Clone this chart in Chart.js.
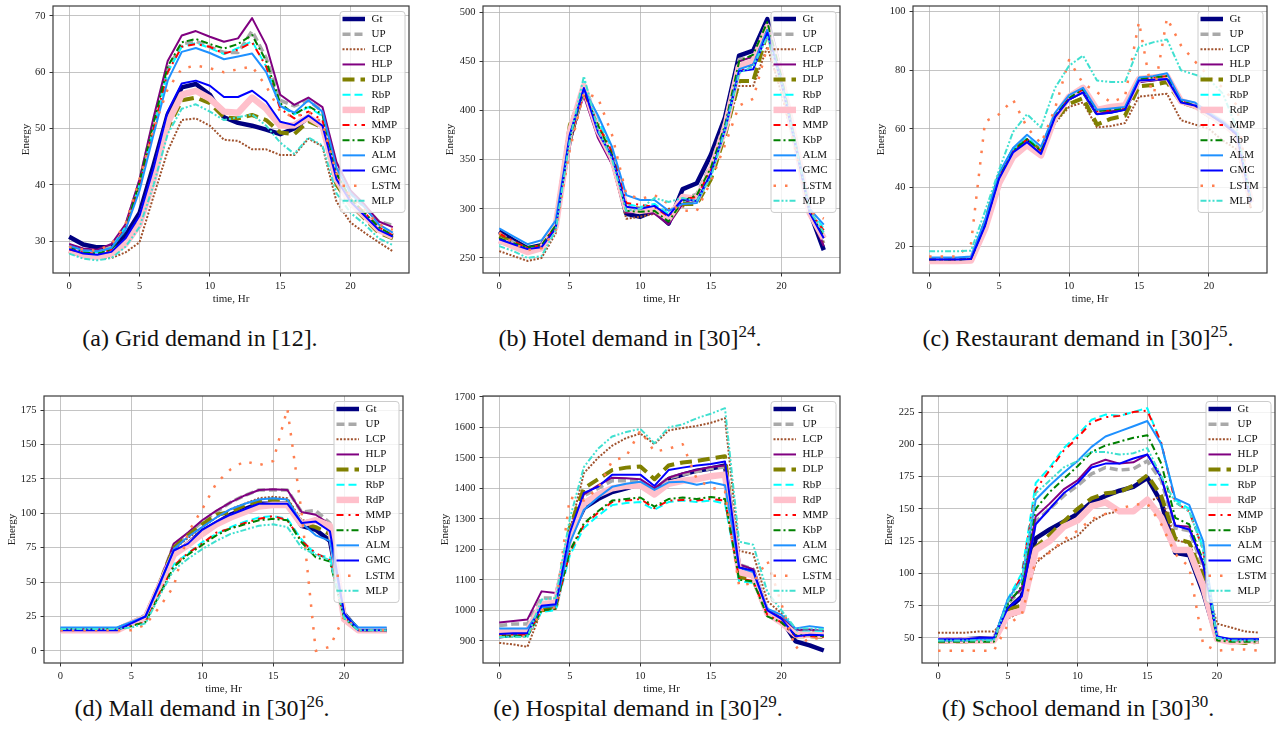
<!DOCTYPE html>
<html lang="en">
<head>
  <meta charset="utf-8">
  <title>Demand forecasts</title>
  <script src="https://cdn.jsdelivr.net/npm/chart.js"></script>
  <style>
    body { margin: 0; background: #fff; width: 1276px; height: 745px; position: relative; overflow: hidden; font-family: "Liberation Serif", "Times New Roman", serif; }
    .panel { position: absolute; }
    .caption { position: absolute; font-size: 24px; line-height: 28px; white-space: nowrap; color: #111; transform: translateX(-50%); }
    .caption sup { font-size: 17px; vertical-align: 9px; line-height: 0; }
  </style>
</head>
<body>
  <div class="caption" style="left:200px; top:324px">(a) Grid demand in [12].</div>
  <div class="caption" style="left:630px; top:324px">(b) Hotel demand in [30]<sup>24</sup>.</div>
  <div class="caption" style="left:1078px; top:324px">(c) Restaurant demand in [30]<sup>25</sup>.</div>
  <div class="caption" style="left:202px; top:694px">(d) Mall demand in [30]<sup>26</sup>.</div>
  <div class="caption" style="left:638px; top:694px">(e) Hospital demand in [30]<sup>29</sup>.</div>
  <div class="caption" style="left:1078px; top:694px">(f) School demand in [30]<sup>30</sup>.</div>

  <script>
    // hours on the x axis
    const hours = [0,1,2,3,4,5,6,7,8,9,10,11,12,13,14,15,16,17,18,19,20,21,22,23];
    const xTicks = [0, 5, 10, 15, 20];
    const seriesNames = ['Gt','UP','LCP','HLP','DLP','RbP','RdP','MMP','KbP','ALM','GMC','LSTM','MLP'];

    // (a) grid
    const gridTicks = [30, 40, 50, 60, 70];
    const gridGt   = [30.8,29.4,28.9,28.9,31.0,35.0,43.5,52.5,57.3,57.9,56.0,52.0,51.0,50.5,49.8,49.0,50.0,52.0,50.5,41.0,37.0,34.5,32.0,31.0];
    const gridUP   = [29.3,28.3,28.2,29.0,32.5,40.5,51.0,60.5,65.0,65.5,64.5,63.5,63.5,67.3,62.5,55.0,54.0,55.0,53.0,43.0,38.5,36.0,33.5,32.8];
    const gridLCP  = [28.0,27.3,27.0,27.0,28.0,29.8,38.0,46.0,51.5,51.8,50.5,48.0,47.8,46.3,46.3,45.3,45.3,48.2,46.8,37.0,33.3,31.5,29.8,28.2];
    const gridHLP  = [29.5,28.7,28.5,29.5,33.0,41.0,52.0,62.0,66.5,67.3,66.3,65.4,66.0,69.6,64.8,56.0,54.2,55.5,53.8,44.0,39.0,36.5,33.5,32.5];
    const gridDLP  = [28.2,27.4,27.2,27.7,29.5,33.5,42.0,50.0,55.0,55.5,54.5,52.0,51.8,52.4,51.5,49.3,49.0,51.3,50.2,40.0,36.5,34.0,31.5,30.5];
    const gridRbP  = [28.8,28.2,28.0,28.8,32.5,40.0,50.0,60.0,64.5,65.2,64.3,63.2,64.3,65.5,61.0,54.0,52.5,53.8,52.2,42.0,37.5,35.0,32.5,31.5];
    const gridRdP  = [28.5,27.5,27.2,27.8,29.5,33.0,41.0,51.0,56.0,56.7,55.3,53.0,52.8,55.5,53.5,50.5,50.6,52.0,50.5,41.0,36.8,34.5,32.0,30.8];
    const gridMMP  = [28.5,28.0,27.7,28.5,32.5,40.0,50.0,60.0,64.5,65.0,64.5,63.3,64.0,65.3,61.0,53.5,51.8,53.0,51.5,42.0,37.5,35.0,32.5,31.0];
    const gridKbP  = [29.0,28.0,27.8,28.5,32.0,40.5,51.0,61.0,65.3,65.9,65.0,64.2,65.0,66.6,62.0,54.5,52.5,54.0,52.5,42.0,37.5,35.0,32.5,31.0];
    const gridALM  = [29.2,28.4,28.2,28.8,32.0,39.0,49.0,58.5,63.6,64.3,63.4,62.3,62.8,63.3,60.0,54.0,52.8,55.0,53.0,43.0,38.5,36.0,33.0,31.5];
    const gridGMC  = [28.6,27.8,27.6,28.1,30.5,34.5,43.0,53.0,58.0,58.5,57.6,55.6,55.6,56.7,54.8,51.2,50.6,52.3,50.5,41.0,37.0,34.5,32.0,30.8];
    const gridLSTM = [29.0,28.5,28.3,29.5,33.0,41.0,50.0,57.0,60.6,61.2,60.7,60.0,60.5,61.0,57.5,53.0,52.0,53.0,51.0,42.0,38.0,35.5,33.0,32.0];
    const gridMLP  = [27.8,26.9,26.6,27.0,29.0,32.5,40.0,49.0,53.5,54.3,53.0,51.5,52.0,52.5,50.5,47.5,45.5,48.4,47.0,38.5,35.0,33.0,30.5,29.3];

    // (b) hotel
    const hotelTicks = [250, 300, 350, 400, 450, 500];
    const hotelGt   = [277,268,260,263,285,370,424,380,352,295,292,298,285,320,326,355,393,456,461,493,435,368,297,258];
    const hotelUP   = [275,266,259,262,284,372,420,378,350,298,298,300,288,310,315,345,388,452,455,488,432,366,297,265];
    const hotelLCP  = [257,252,247,250,275,365,418,375,345,290,292,295,300,302,310,335,375,425,425,465,418,360,295,265];
    const hotelHLP  = [270,264,257,258,280,375,415,372,345,296,297,295,284,305,312,340,385,450,455,488,432,365,295,262];
    const hotelDLP  = [272,266,259,262,285,385,420,385,355,302,300,298,290,305,305,330,375,430,430,480,430,365,297,270];
    const hotelRbP  = [265,262,258,262,283,370,430,390,360,305,302,305,295,308,312,338,380,443,450,478,430,366,300,280];
    const hotelRdP  = [268,262,256,260,282,378,425,380,352,300,298,300,290,312,310,340,382,445,450,485,433,367,296,270];
    const hotelMMP  = [275,267,260,263,282,372,418,385,358,306,304,302,292,310,312,340,382,440,447,482,430,366,297,278];
    const hotelKbP  = [270,265,261,263,283,372,420,385,355,298,297,298,287,308,314,342,385,450,457,490,434,367,297,272];
    const hotelALM  = [280,272,264,268,288,375,422,395,363,314,309,309,298,305,306,335,382,442,447,482,431,367,300,284];
    const hotelGMC  = [269,264,259,261,280,375,423,378,353,302,300,303,293,310,308,336,380,440,442,479,428,364,296,270];
    const hotelLSTM = [276,265,258,260,278,360,418,413,375,315,310,314,305,298,298,328,365,405,412,465,420,360,297,290];
    const hotelMLP  = [262,257,250,252,278,370,435,380,350,298,300,311,307,311,308,332,380,438,445,475,428,365,298,276];

    // (c) restaurant
    const restTicks = [20, 40, 60, 80, 100];
    const restGt   = [15.3,15.3,15.3,15.5,27.0,43.0,52.5,56.0,52.0,64.5,70.5,73.0,65.5,66.0,67.0,76.5,77.0,77.5,69.5,68.0,65.0,62.0,58.0,35.0];
    const restUP   = [15.5,15.5,15.5,15.7,27.5,43.5,52.0,56.0,52.0,64.5,70.5,73.5,66.0,66.5,67.5,77.0,77.5,78.0,69.5,68.5,65.0,62.0,58.0,35.0];
    const restLCP  = [15.5,15.5,15.5,15.8,28.0,43.0,51.5,55.0,52.0,62.0,67.5,69.0,60.5,61.0,62.0,71.0,71.5,72.0,63.0,61.5,60.0,56.0,53.0,33.0];
    const restHLP  = [15.2,15.2,15.2,15.4,27.0,43.0,51.0,55.0,51.5,64.0,70.0,72.5,65.5,66.0,67.0,76.0,76.5,77.0,69.0,67.5,64.5,61.5,57.5,35.0];
    const restDLP  = [15.5,15.5,15.5,15.7,28.0,44.0,52.5,56.5,52.5,63.0,68.5,70.5,61.5,63.5,64.5,74.5,75.0,76.0,69.0,67.5,64.5,61.5,57.5,35.0];
    const restRbP  = [16.0,16.0,16.0,16.2,28.0,44.0,53.0,57.0,53.0,65.0,71.0,74.0,66.5,67.0,67.5,77.5,78.0,78.5,70.0,68.5,65.5,62.5,58.5,35.5];
    const restRdP  = [15.0,15.0,15.0,15.2,26.0,41.5,50.5,54.5,51.0,64.0,71.0,74.0,66.5,67.5,68.0,77.0,77.5,78.0,69.5,68.0,65.0,62.0,58.0,35.0];
    const restMMP  = [15.5,15.5,15.5,15.7,27.5,43.5,52.5,56.5,52.5,64.5,70.5,73.5,66.0,66.5,67.0,77.0,77.5,78.0,69.5,68.0,65.0,62.0,58.0,35.0];
    const restKbP  = [15.5,15.5,15.5,15.7,27.5,43.5,52.5,56.5,52.5,64.5,70.5,73.5,66.0,66.5,67.0,77.0,77.5,78.0,69.5,68.0,65.0,62.0,58.0,35.0];
    const restALM  = [16.2,16.2,16.2,16.5,29.0,45.0,53.5,58.0,54.0,65.5,71.5,74.0,66.5,67.0,67.5,77.5,78.0,79.0,70.0,69.0,65.5,62.5,58.5,35.5];
    const restGMC  = [15.5,15.5,15.5,15.7,27.0,43.0,52.0,55.5,51.5,64.0,70.0,72.5,65.0,65.5,66.5,76.5,76.8,77.0,69.0,68.0,65.0,62.0,58.0,35.0];
    const restLSTM = [16.5,16.5,16.5,21.0,62.5,65.0,70.0,60.5,55.0,67.0,83.5,75.5,72.5,69.0,71.0,96.5,70.0,97.8,88.5,83.0,78.0,74.0,68.0,32.0];
    const restMLP  = [18.3,18.3,18.3,18.5,32.0,46.0,59.0,65.0,60.5,74.0,81.5,85.0,76.5,76.0,76.0,88.0,89.5,90.5,80.0,78.5,77.0,72.0,60.0,36.0];

    // (d) mall
    const mallTicks = [0, 25, 50, 75, 100, 125, 150, 175];
    const mallGt   = [15,15,15,15,15,20,25,48,70,78,87,93,99,103,107,107,107,91,88,80,27,15,15,15];
    const mallUP   = [16,16,16,16,16,21,26,50,77,85,94,101,108,113,117,117,117,101,102,93,27,16,16,16];
    const mallLCP  = [15.5,15.5,15.5,15.5,15.5,20,25,48,74,82,90,97,103,107,111,112,111,95,94,88,26,15.5,15.5,15.5];
    const mallHLP  = [16,16,16,16,16,21,25,50,78,86,95,102,108,113,117,117.5,117,101,99,92,26,16,16,16];
    const mallDLP  = [16,16,16,16,16,20.5,25,49,75,84,92,99,101,106,109,110,109,93,90,85,26,16,16,16];
    const mallRbP  = [16,16,16,16,16,18,22,42,63,71,79,85,90,94,97,98,96,81,70,68,25,15,15,15];
    const mallRdP  = [15,15,15,15,15,20,24,47,70,77,85,92,97,101,105,106,106,92,95,91,23,15,15,15];
    const mallMMP  = [16,16,16,16,16,18,21,42,62,71,78,86,89,93,96,98,95,80,71,66,25,15,15,15];
    const mallKbP  = [16,16,16,16,16,18,21,41,61,70,77,84,89,92,95,96,95,79,68,65,24,15,15,15];
    const mallALM  = [17,17,17,17,17,21,25,48,74,83,90,97,103,107,110,111,110,93,84,80,27,17,17,17];
    const mallGMC  = [15,15,15,15,15,20,25,49,73,78,88,94,99,103,107,107,107,93,94,87,27,15,15,15];
    const mallLSTM = [15,15,15,15,15,15,19,32,47,86,103,122,132,138,135,138,176,101,0,3,25,15,15,15];
    const mallMLP  = [16,16,16,16,16,17,20,40,59,67,74,80,85,88,91,92,90,75,70,66,24,15,15,15];

    // (e) hospital
    const hospTicks = [900, 1000, 1100, 1200, 1300, 1400, 1500, 1600, 1700];
    const hospGt   = [915,920,922,1010,1015,1240,1335,1365,1388,1400,1415,1395,1430,1445,1458,1465,1475,1140,1128,995,970,898,885,868];
    const hospUP   = [950,955,955,1040,1040,1250,1375,1400,1425,1425,1425,1395,1435,1445,1455,1465,1470,1150,1135,1000,975,930,928,925];
    const hospLCP  = [893,888,880,1000,1005,1260,1450,1500,1540,1565,1580,1545,1590,1598,1605,1615,1630,1195,1185,1030,990,935,935,930];
    const hospHLP  = [960,965,970,1062,1057,1260,1380,1410,1435,1433,1430,1400,1435,1450,1460,1470,1475,1150,1135,1000,975,935,937,932];
    const hospDLP  = [920,925,925,1000,1005,1270,1400,1430,1460,1468,1472,1430,1475,1485,1490,1498,1505,1110,1100,985,965,915,915,912];
    const hospRbP  = [912,915,915,995,1000,1180,1270,1310,1345,1352,1355,1330,1355,1360,1355,1360,1350,1095,1090,985,965,930,930,930];
    const hospRdP  = [930,932,932,1020,1025,1240,1350,1380,1400,1408,1410,1380,1415,1425,1430,1440,1445,1125,1115,990,960,920,920,918];
    const hospMMP  = [918,920,920,1000,1005,1190,1280,1320,1355,1360,1365,1335,1360,1362,1360,1365,1360,1105,1095,985,960,915,915,912];
    const hospKbP  = [915,915,915,1000,1005,1195,1285,1325,1360,1365,1370,1340,1365,1370,1365,1372,1365,1100,1095,980,960,918,918,915];
    const hospALM  = [940,940,940,1010,1015,1220,1330,1370,1405,1415,1422,1395,1420,1422,1412,1420,1410,1140,1125,1005,985,940,948,942];
    const hospGMC  = [922,925,925,1015,1020,1255,1385,1405,1445,1445,1445,1408,1460,1468,1475,1480,1488,1140,1130,1000,972,915,920,918];
    const hospLSTM = [915,915,915,1000,1010,1370,1360,1400,1490,1505,1590,1520,1530,1545,1430,1403,1390,1080,1090,1163,1021,874,910,905];
    const hospMLP  = [912,912,912,1035,1040,1300,1470,1530,1570,1585,1595,1548,1600,1610,1630,1645,1663,1225,1215,1060,1000,940,940,938];

    // (f) school
    const schoolTicks = [50, 75, 100, 125, 150, 175, 200, 225];
    const schoolGt   = [49,49,49,49.5,49,72,82,127,134,140,146,155,160,164,167,174,155,116,114,85,49,48,48,48];
    const schoolUP   = [49,49,49,49,49,76,88,140,150,160,168,177,182,180,181,187,172,135,133,105,49,48,48,48];
    const schoolLCP  = [54,54,54,55,55,65,70,108,117,124,129,140,146,148,150,155,160,126,123,99,61,58,55,54];
    const schoolHLP  = [49,49,49,50,50,78,88,144,154,165,172,184,188,185,186,192,175,137,136,107,50,48,48,48];
    const schoolDLP  = [47,47,47,48,48,72,75,120,130,140,150,158,162,163,168,176,160,127,124,98,49,47,46,47];
    const schoolRbP  = [48,48,48,49,49,80,100,170,182,197,207,219,223,222,225,228,200,157,150,120,50,48,48,48];
    const schoolRdP  = [48,48,48,48,48,68,71,118,125,136,141,152,155,148,148,157,143,118,118,90,49,47,48,48];
    const schoolMMP  = [48,48,48,49,49,78,98,165,180,195,205,217,221,222,225,226,201,155,148,118,50,48,48,48];
    const schoolKbP  = [47,47,47,47,47,76,90,150,163,173,183,194,199,202,205,207,185,143,138,110,48,47,47,47];
    const schoolALM  = [48,48,48,49,49,80,95,157,168,178,187,198,206,210,214,218,200,158,153,125,50,49,49,49];
    const schoolGMC  = [49,49,49,50,50,73,82,138,150,162,170,182,185,185,189,192,174,137,134,108,51,49,49,49];
    const schoolLSTM = [40,40,40,40,40,60,68,110,116,126,133,142,146,150,153,154,138,115,105,45,40,41,41,40];
    const schoolMLP  = [48,48,48,48,48,78,95,162,172,182,187,194,194,192,193,197,175,155,148,118,50,48,48,48];

    // line style per method
    const styles = {
      Gt:   { color: 'navy',       width: 4.5, dash: [] },
      UP:   { color: 'darkgray',   width: 3.5, dash: [8, 4] },
      LCP:  { color: 'sienna',     width: 2,   dash: [2, 1.6] },
      HLP:  { color: 'purple',     width: 2,   dash: [] },
      DLP:  { color: 'olive',      width: 4,   dash: [12, 6] },
      RbP:  { color: 'cyan',       width: 2,   dash: [8, 4] },
      RdP:  { color: 'pink',       width: 6.5, dash: [] },
      MMP:  { color: 'red',        width: 2,   dash: [7, 5, 2, 5] },
      KbP:  { color: 'green',      width: 2,   dash: [7, 3, 2, 3] },
      ALM:  { color: 'dodgerblue', width: 2,   dash: [] },
      GMC:  { color: 'blue',       width: 2,   dash: [] },
      LSTM: { color: 'coral',      width: 2.5, dash: [2.5, 9] },
      MLP:  { color: 'turquoise',  width: 2,   dash: [6, 2, 2, 2, 2, 2] }
    };

    const panels = [
      { series: [gridGt,gridUP,gridLCP,gridHLP,gridDLP,gridRbP,gridRdP,gridMMP,gridKbP,gridALM,gridGMC,gridLSTM,gridMLP],
        yMin: 24.35, yMax: 71.75, yTicks: gridTicks, box: { L: 53, T: 6, R: 409, B: 273, titleX: 27 } },
      { series: [hotelGt,hotelUP,hotelLCP,hotelHLP,hotelDLP,hotelRbP,hotelRdP,hotelMMP,hotelKbP,hotelALM,hotelGMC,hotelLSTM,hotelMLP],
        yMin: 234.7, yMax: 506.4, yTicks: hotelTicks, box: { L: 483, T: 6, R: 840, B: 273, titleX: 451 } },
      { series: [restGt,restUP,restLCP,restHLP,restDLP,restRbP,restRdP,restMMP,restKbP,restALM,restGMC,restLSTM,restMLP],
        yMin: 10.9, yMax: 101.9, yTicks: restTicks, box: { L: 913, T: 6, R: 1267, B: 273, titleX: 882 } },
      { series: [mallGt,mallUP,mallLCP,mallHLP,mallDLP,mallRbP,mallRdP,mallMMP,mallKbP,mallALM,mallGMC,mallLSTM,mallMLP],
        yMin: -8.8, yMax: 185.3, yTicks: mallTicks, box: { L: 44, T: 396, R: 403, B: 663, titleX: 13 } },
      { series: [hospGt,hospUP,hospLCP,hospHLP,hospDLP,hospRbP,hospRdP,hospMMP,hospKbP,hospALM,hospGMC,hospLSTM,hospMLP],
        yMin: 827, yMax: 1703, yTicks: hospTicks, box: { L: 483, T: 396, R: 840, B: 663, titleX: 446 } },
      { series: [schoolGt,schoolUP,schoolLCP,schoolHLP,schoolDLP,schoolRbP,schoolRdP,schoolMMP,schoolKbP,schoolALM,schoolGMC,schoolLSTM,schoolMLP],
        yMin: 30.5, yMax: 237.4, yTicks: schoolTicks, box: { L: 922, T: 396, R: 1275, B: 663, titleX: 890 } }
    ];

    Chart.defaults.font.family = '"Liberation Serif", "Times New Roman", serif';
    Chart.defaults.color = '#222';

    function roundedRect(ctx, x, y, w, h, r) {
      ctx.beginPath();
      ctx.moveTo(x + r, y);
      ctx.lineTo(x + w - r, y);
      ctx.arcTo(x + w, y, x + w, y + r, r);
      ctx.lineTo(x + w, y + h - r);
      ctx.arcTo(x + w, y + h, x + w - r, y + h, r);
      ctx.lineTo(x + r, y + h);
      ctx.arcTo(x, y + h, x, y + h - r, r);
      ctx.lineTo(x, y + r);
      ctx.arcTo(x, y, x + r, y, r);
      ctx.closePath();
    }

    // axes frame + matplotlib-like legend in the upper right
    const frameLegend = {
      id: 'frameLegend',
      afterDatasetsDraw(chart) {
        const { ctx, chartArea: a } = chart;
        ctx.save();
        ctx.strokeStyle = '#3a3a3a';
        ctx.lineWidth = 1.2;
        ctx.strokeRect(a.left, a.top, a.right - a.left, a.bottom - a.top);

        const rowH = 15.15, w = 65, h = 13 * rowH + 4;
        const x0 = a.right - 4 - w, y0 = a.top + 5.5;
        roundedRect(ctx, x0, y0, w, h, 3);
        ctx.fillStyle = 'rgba(255,255,255,0.8)';
        ctx.fill();
        ctx.strokeStyle = '#cccccc';
        ctx.lineWidth = 1;
        ctx.stroke();

        chart.data.datasets.forEach((ds, i) => {
          const cy = y0 + 7.5 + i * rowH;
          ctx.beginPath();
          ctx.setLineDash(ds.borderDash);
          ctx.lineCap = 'butt';
          ctx.lineWidth = ds.borderWidth;
          ctx.strokeStyle = ds.borderColor;
          ctx.moveTo(x0 + 2.5, cy);
          ctx.lineTo(x0 + 25, cy);
          ctx.stroke();
          ctx.setLineDash([]);
          ctx.fillStyle = '#111';
          ctx.font = '11px "Liberation Serif", serif';
          ctx.textAlign = 'left';
          ctx.textBaseline = 'middle';
          ctx.fillText(ds.label, x0 + 31.5, cy);
        });
        ctx.restore();
      }
    };

    panels.forEach(p => {
      const b = p.box;
      const left = Math.round(b.titleX - 10.6);
      const top = b.T - 6;
      const padRight = Math.min(3, 1276 - b.R);
      const xAxisH = 37;
      const width = b.R + padRight - left;
      const height = 6 + (b.B - b.T) + xAxisH;

      const wrap = document.createElement('div');
      wrap.className = 'panel';
      wrap.style.left = left + 'px';
      wrap.style.top = top + 'px';
      const canvas = document.createElement('canvas');
      canvas.width = width;
      canvas.height = height;
      wrap.appendChild(canvas);
      document.body.appendChild(wrap);

      const datasets = seriesNames.map((name, i) => ({
        label: name,
        data: hours.map((h, k) => ({ x: h, y: p.series[i][k] })),
        borderColor: styles[name].color,
        backgroundColor: styles[name].color,
        borderWidth: styles[name].width,
        borderDash: styles[name].dash,
        borderCapStyle: 'butt',
        borderJoinStyle: 'round',
        pointRadius: 0,
        tension: 0,
        fill: false,
        order: seriesNames.length - i
      }));

      const yW = b.L - left;
      new Chart(canvas, {
        type: 'line',
        data: { datasets: datasets },
        plugins: [frameLegend],
        options: {
          responsive: false,
          animation: false,
          events: [],
          layout: { padding: { top: 6, right: padRight, bottom: 0, left: 0 } },
          plugins: { legend: { display: false }, tooltip: { enabled: false } },
          scales: {
            x: {
              type: 'linear',
              min: -1.15,
              max: 24.15,
              afterBuildTicks: axis => { axis.ticks = xTicks.map(v => ({ value: v })); },
              afterFit: axis => {
                axis.height = xAxisH;
                axis.paddingLeft = 0; axis.paddingRight = 0; axis.paddingTop = 0; axis.paddingBottom = 0;
              },
              ticks: { font: { size: 10.5 }, padding: 3, maxRotation: 0, callback: v => String(v) },
              grid: { color: 'rgba(176,176,176,0.75)', lineWidth: 1, tickLength: 3.5, tickColor: '#333' },
              border: { display: false },
              title: { display: true, text: 'time, Hr', font: { size: 11 }, padding: { top: 4, bottom: 4 } }
            },
            y: {
              type: 'linear',
              min: p.yMin,
              max: p.yMax,
              afterBuildTicks: axis => { axis.ticks = p.yTicks.map(v => ({ value: v })); },
              afterFit: axis => {
                axis.width = yW;
                axis.paddingLeft = 0; axis.paddingRight = 0; axis.paddingTop = 0; axis.paddingBottom = 0;
              },
              ticks: { font: { size: 10.5 }, padding: 4, callback: v => String(v) },
              grid: { color: 'rgba(176,176,176,0.75)', lineWidth: 1, tickLength: 3.5, tickColor: '#333' },
              border: { display: false },
              title: { display: true, text: 'Energy', font: { size: 11 }, padding: { top: 4, bottom: 4 } }
            }
          }
        }
      });
    });
  </script>
</body>
</html>
